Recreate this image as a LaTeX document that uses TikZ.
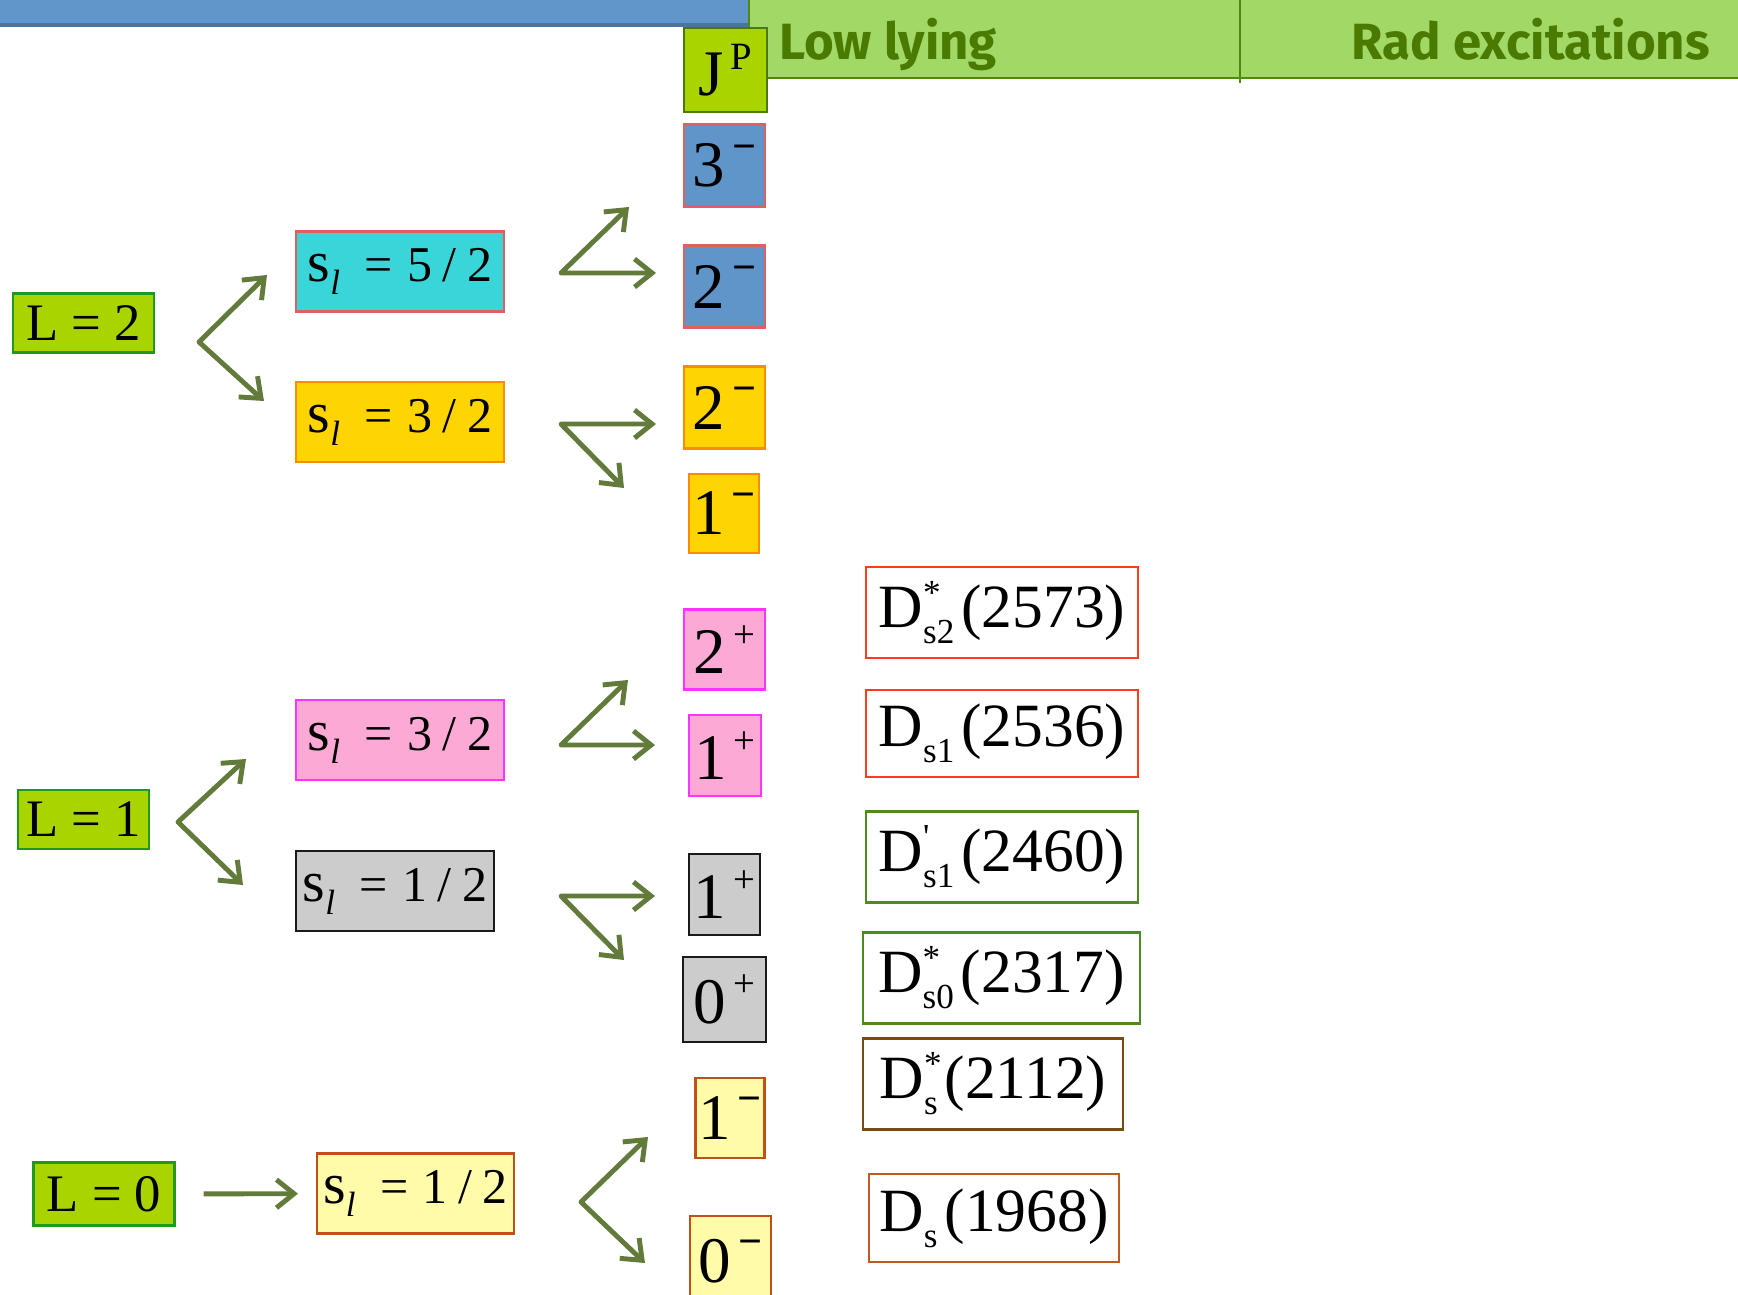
\documentclass[tikz,border=0pt]{standalone}
\usepackage{fontspec}
\setmainfont{Liberation Serif}
\newfontfamily\hlavicka{Fira Sans}
\usetikzlibrary{arrows.meta}
\definecolor{lzel}{HTML}{AAD400}
\definecolor{lokraj}{HTML}{1F9A1F}
\definecolor{jpkraj}{HTML}{4A7A0A}
\definecolor{modf}{HTML}{5F95C9}
\definecolor{lososk}{HTML}{E06060}
\definecolor{tyrf}{HTML}{3AD5D8}
\definecolor{zluf}{HTML}{FFD400}
\definecolor{zluk}{HTML}{FF8C00}
\definecolor{ruzf}{HTML}{FCAAD5}
\definecolor{ruzk}{HTML}{FF33FF}
\definecolor{sedf}{HTML}{CCCCCC}
\definecolor{sedk}{HTML}{1A1A1A}
\definecolor{blef}{HTML}{FFFBA8}
\definecolor{blek}{HTML}{C0501A}
\definecolor{mcer}{HTML}{FF3B1A}
\definecolor{mzel}{HTML}{4E8A1E}
\definecolor{mhne}{HTML}{7A4A10}
\definecolor{mora}{HTML}{C05A20}
\definecolor{hlavf}{HTML}{A2D966}
\definecolor{hlavk}{HTML}{4E8A12}
\definecolor{hlavt}{HTML}{4A7A00}
\definecolor{pruhm}{HTML}{6096C9}
\definecolor{pruht}{HTML}{4A75A3}
\definecolor{sipc}{HTML}{627A3A}
% s_l = a / b, J^P a D s indexy
\newcommand\spinl[2]{{\fontsize{33}{33}\selectfont s}\raisebox{-7.4pt}{\fontsize{20}{20}\selectfont\itshape l}\kern14pt=\kern8pt#1\kern6pt/\kern6pt#2}
\newcommand\jpp[2]{#1\kern4pt\raisebox{0.41em}{\fontsize{22}{22}\selectfont #2}}
\newcommand\zap{{\fontsize{24}{24}\selectfont\bfseries\char"2212}}
\newcommand\mezon[3]{D\rlap{\raisebox{0.37em}{\fontsize{20}{20}\selectfont #1}}\raisebox{-0.26em}{\fontsize{20}{20}\selectfont #2}\kern4pt(#3)}
\tikzset{
  hlad/.style={draw=lokraj,fill=lzel,line width=1.2pt,inner sep=0pt,minimum width=2.82cm,minimum height=1.18cm,font=\fontsize{30}{30}\selectfont},
  spin/.style={line width=1.2pt,inner sep=0pt,minimum width=4.16cm,minimum height=1.6cm,font=\fontsize{28.5}{28.5}\selectfont},
  jp/.style={line width=1.2pt,inner sep=0pt,minimum width=1.62cm,minimum height=1.64cm,font=\fontsize{37}{37}\selectfont},
  mez/.style={fill=white,line width=1.2pt,inner sep=0pt,minimum width=5.44cm,minimum height=1.82cm,font=\fontsize{35}{35}\selectfont},
  modra/.style={fill=modf,draw=lososk},
  tyrkys/.style={fill=tyrf,draw=lososk},
  zluta/.style={fill=zluf,draw=zluk},
  ruzova/.style={fill=ruzf,draw=ruzk},
  seda/.style={fill=sedf,draw=sedk},
  bleda/.style={fill=blef,draw=blek},
  sipka/.style={->,>={Straight Barb[length=10pt,width=16pt]},line width=2.8pt,draw=sipc,line join=round},
}

\begin{document}
\begin{tikzpicture}[x=0.02cm,y=-0.02cm]
  \useasboundingbox (0,0) rectangle (1738,1295);
  \fill[pruhm] (0,0) rectangle (749,27);
  \fill[pruht] (0,23) rectangle (749,27);
  \draw[draw=hlavk,fill=hlavf,line width=1.2pt] (749,-2) rectangle (1745,78);
  \draw[hlavk,line width=0.8pt] (1240,0) -- (1240,83);
  \node[anchor=base west,text=hlavt,font=\hlavicka\bfseries\fontsize{29}{29}\selectfont] (nizke) at (773,59) {Low lying};
  \node[anchor=base east,text=hlavt,font=\hlavicka\bfseries\fontsize{29}{29}\selectfont] (radial) at (1716,59) {Rad excitations};

  \node[hlad] (l2) at (83.5,323) {L = 2};
  \node[hlad,minimum width=2.62cm] (l1) at (83.5,819.5) {L = 1};
  \node[hlad,minimum height=1.26cm] (l0) at (104,1194) {L = 0};

  \node[spin,tyrkys] (s52) at (400,271.5) {\spinl{5}{2}};
  \node[spin,zluta] (s32) at (400,422) {\spinl{3}{2}};
  \node[spin,ruzova] (p32) at (400,740) {\spinl{3}{2}};
  \node[spin,seda,minimum width=3.96cm] (p12) at (395,891) {\spinl{1}{2}};
  \node[spin,bleda,minimum width=3.94cm] (z12) at (415.5,1193.5) {\spinl{1}{2}};

  \node[jp,fill=lzel,draw=jpkraj,minimum width=1.66cm,minimum height=1.68cm] (jp) at (725.5,70) {\jpp{J}{P}};
  \node[jp,modra] (d3m) at (724.5,165.5) {\jpp{3}{\zap}};
  \node[jp,modra] (d2m) at (724.5,286.5) {\jpp{2}{\zap}};
  \node[jp,zluta] (c2m) at (724.5,407.5) {\jpp{2}{\zap}};
  \node[jp,zluta,minimum width=1.4cm,minimum height=1.58cm] (c1m) at (724,513.5) {\jpp{1}{\zap}};
  \node[jp,ruzova,minimum height=1.6cm] (b2p) at (724.5,649.5) {\jpp{2}{+}};
  \node[jp,ruzova,minimum width=1.44cm,minimum height=1.62cm] (b1p) at (725,755.5) {\jpp{1}{+}};
  \node[jp,seda,minimum width=1.42cm,minimum height=1.62cm] (a1p) at (724.5,894.5) {\jpp{1}{+}};
  \node[jp,seda,minimum width=1.66cm,minimum height=1.7cm] (a0p) at (724.5,999.5) {\jpp{0}{+}};
  \node[jp,bleda,minimum width=1.38cm,minimum height=1.6cm] (z1m) at (730,1118) {\jpp{1}{\zap}};
  \node[jp,bleda,minimum height=1.8cm] (z0m) at (730.5,1261) {\jpp{0}{\zap}};

  \node[mez,draw=mcer] (m2573) at (1002,612.5) {\mezon{*}{s2}{2573}};
  \node[mez,draw=mcer,minimum height=1.74cm] (m2536) at (1002,733.5) {\mezon{}{s1}{2536}};
  \node[mez,draw=mzel] (m2460) at (1002,857) {\mezon{\textquotesingle}{s1}{2460}};
  \node[mez,draw=mzel,minimum width=5.54cm] (m2317) at (1001.5,978) {\mezon{*}{s0}{2317}};
  \node[mez,draw=mhne,minimum width=5.2cm] (m2112) at (993,1084) {\mezon{*}{s}{2112}};
  \node[mez,draw=mora,minimum width=5cm,minimum height=1.76cm] (m1968) at (994,1218) {\mezon{}{s}{1968}};

  \coordinate (v1) at (199,342); \coordinate (v1a) at (267,275); \coordinate (v1b) at (264,401);
  \coordinate (v2) at (561,273); \coordinate (v2a) at (629,207); \coordinate (v2b) at (656,273);
  \coordinate (v3) at (561,424); \coordinate (v3a) at (656,424); \coordinate (v3b) at (624,488);
  \coordinate (v4) at (561,745); \coordinate (v4a) at (628,680); \coordinate (v4b) at (655,745);
  \coordinate (v5) at (178,822); \coordinate (v5a) at (246,759); \coordinate (v5b) at (243,885);
  \coordinate (v6) at (561,896); \coordinate (v6a) at (655,896); \coordinate (v6b) at (624,960);
  \coordinate (v8) at (581,1202); \coordinate (v8a) at (648,1137); \coordinate (v8b) at (645,1263);
  \foreach \v in {v1,v2,v3,v4,v5,v6,v8}
    \draw[sipka,<->] (\v a) -- (\v) -- (\v b);
  \draw[sipka,shorten <=0.56cm,shorten >=0.36cm] (l0) -- (z12);
\end{tikzpicture}
\end{document}
